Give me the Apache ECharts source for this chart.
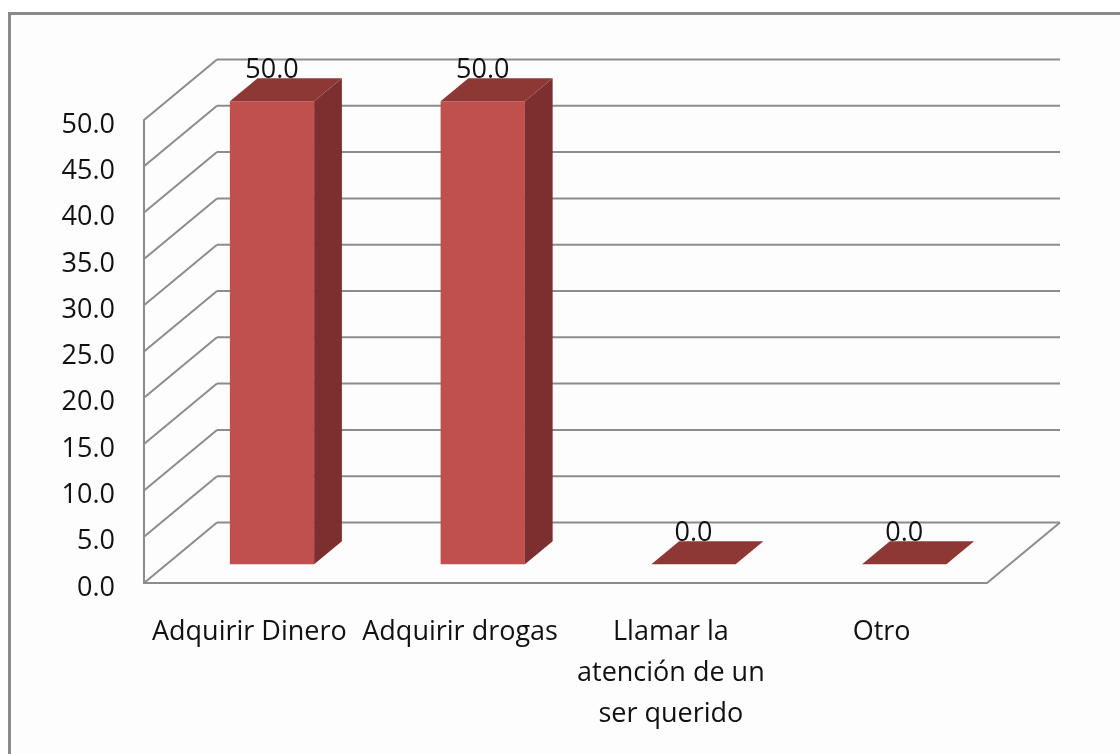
<!DOCTYPE html>
<html>
<head>
<meta charset="utf-8">
<script src="https://cdn.jsdelivr.net/npm/echarts@6/dist/echarts.min.js"></script>
<style>
  html, body { margin: 0; padding: 0; background: #ffffff; }
  #chart { width: 1120px; height: 754px; }
</style>
</head>
<body>
<div id="chart"></div>
<script>
// categorías y porcentajes
const categories = ['Adquirir Dinero', 'Adquirir drogas', 'Llamar la\natención de un\nser querido', 'Otro'];
const values = [50.0, 50.0, 0.0, 0.0];
const yTicks = [0, 5, 10, 15, 20, 25, 30, 35, 40, 45, 50];

// profundidad del efecto 3D (px)
const DEPTH_X = 73;
const DEPTH_Y = -60.5;
const BAR_FRONT = 0.31;
const BAR_BACK = 0.69;

const GRID_COLOR = '#8c8c8c';
const FONT = '"Open Sans", "Noto Sans", sans-serif';

const chart = echarts.init(document.getElementById('chart'));

// paredes: líneas de la pared lateral y del fondo
function renderWalls(params, api) {
  const cs = params.coordSys;
  const t = api.value(1);
  const y = api.coord([0, t])[1];
  const left = cs.x;
  const right = cs.x + cs.width;
  const lineStyle = { stroke: GRID_COLOR, lineWidth: 2 };
  const children = [
    { type: 'line', shape: { x1: left, y1: y, x2: left + DEPTH_X, y2: y + DEPTH_Y }, style: lineStyle },
    { type: 'line', shape: { x1: left + DEPTH_X, y1: y + DEPTH_Y, x2: right + DEPTH_X, y2: y + DEPTH_Y }, style: lineStyle }
  ];
  if (t === 0) {
    children.push({ type: 'line', shape: { x1: right, y1: y, x2: right + DEPTH_X, y2: y + DEPTH_Y }, style: lineStyle });
  }
  return { type: 'group', children: children };
}

// barras 3D
function renderBar(params, api) {
  const i = api.value(0);
  const v = api.value(1);
  const base = api.coord([i, 0]);
  const top = api.coord([i, v]);
  const w = api.size([1, 0])[0] * 0.4;
  const x0 = base[0] - w / 2 + BAR_FRONT * DEPTH_X;
  const yTop = top[1] + BAR_FRONT * DEPTH_Y;
  const yBase = base[1] + BAR_FRONT * DEPTH_Y;
  const ddx = (BAR_BACK - BAR_FRONT) * DEPTH_X;
  const ddy = (BAR_BACK - BAR_FRONT) * DEPTH_Y;
  const children = [];
  if (yBase - yTop > 0.5) {
    children.push({
      type: 'polygon',
      shape: { points: [[x0, yTop], [x0 + w, yTop], [x0 + w, yBase], [x0, yBase]] },
      style: { fill: '#c0504d' }
    });
    children.push({
      type: 'polygon',
      shape: { points: [[x0 + w, yTop], [x0 + w + ddx, yTop + ddy], [x0 + w + ddx, yBase + ddy], [x0 + w, yBase]] },
      style: { fill: '#7c2f2e' }
    });
  }
  children.push({
    type: 'polygon',
    shape: { points: [[x0, yTop], [x0 + w, yTop], [x0 + w + ddx, yTop + ddy], [x0 + ddx, yTop + ddy]] },
    style: { fill: '#8e3836' }
  });
  children.push({
    type: 'text',
    style: {
      x: x0 + w / 2,
      y: yTop + ddy + 6,
      text: v.toFixed(1),
      align: 'center',
      verticalAlign: 'bottom',
      fill: '#111',
      font: '27px ' + FONT
    }
  });
  return { type: 'group', children: children };
}

const option = {
  backgroundColor: '#ffffff',
  animation: false,
  graphic: [
    {
      type: 'rect',
      left: 8,
      top: 12,
      shape: { width: 1200, height: 800 },
      style: { fill: '#fdfdfd', stroke: '#8a8a8a', lineWidth: 3 },
      z: -10
    }
  ],
  grid: { left: 144, right: 133, top: 120, bottom: 171 },
  xAxis: {
    type: 'category',
    data: categories,
    axisLine: { show: true, lineStyle: { color: GRID_COLOR, width: 2 } },
    axisTick: { show: false },
    axisLabel: {
      interval: 0,
      margin: 29,
      color: '#111',
      fontFamily: FONT,
      fontSize: 27,
      lineHeight: 41,
      verticalAlign: 'top'
    }
  },
  yAxis: {
    type: 'value',
    min: 0,
    max: 50,
    interval: 5,
    axisLine: { show: true, lineStyle: { color: GRID_COLOR, width: 2 } },
    axisTick: { show: false },
    splitLine: { show: false },
    axisLabel: {
      margin: 29,
      color: '#111',
      fontFamily: FONT,
      fontSize: 27,
      formatter: v => '{t|' + v.toFixed(1) + '}',
      rich: {
        t: { fontFamily: FONT, fontSize: 27, color: '#111', padding: [10, 0, 0, 0] }
      }
    }
  },
  series: [
    {
      type: 'custom',
      name: 'paredes',
      clip: false,
      silent: true,
      z: 1,
      renderItem: renderWalls,
      data: yTicks.map(t => [0, t])
    },
    {
      type: 'custom',
      name: 'porcentaje',
      clip: false,
      z: 2,
      renderItem: renderBar,
      data: values.map((v, i) => [i, v])
    }
  ]
};

chart.setOption(option);
</script>
</body>
</html>
